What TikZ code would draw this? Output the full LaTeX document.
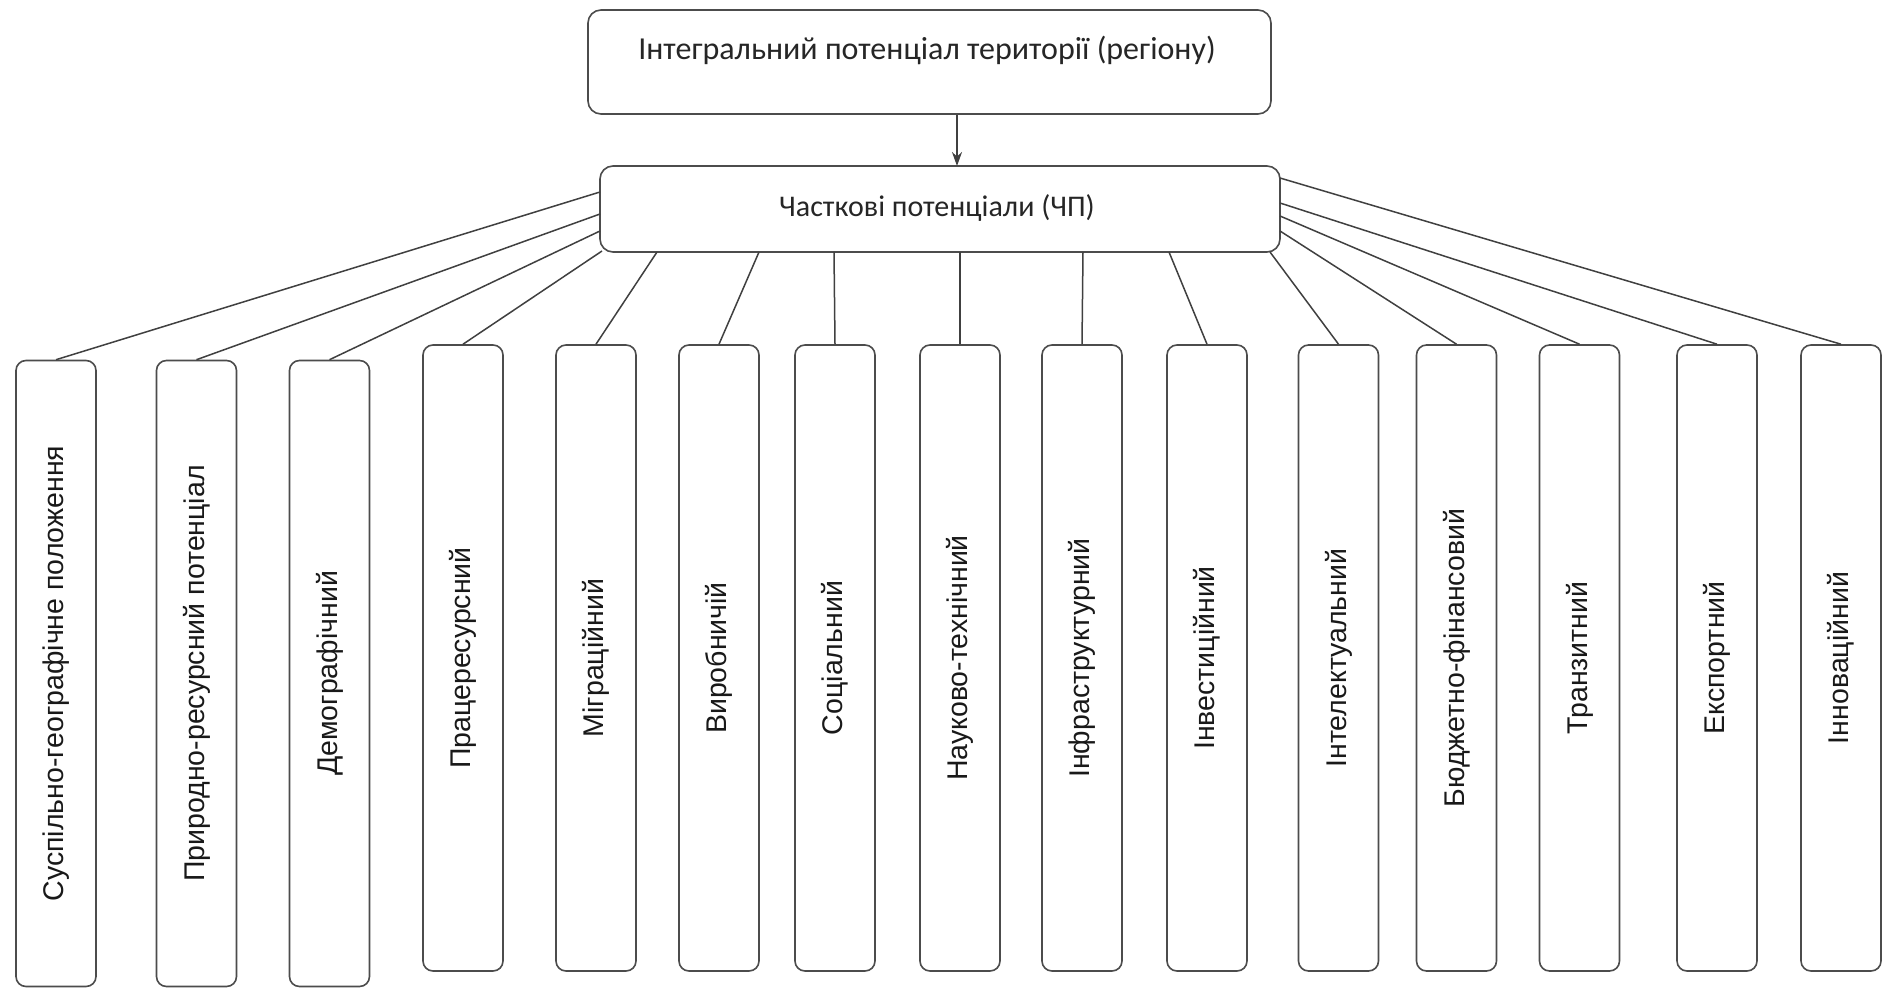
\documentclass[tikz,border=0pt]{standalone}
\usepackage{fontspec}
\setmainfont{Liberation Sans}
\newfontfamily\calib{Carlito}
\usetikzlibrary{arrows.meta}
\tikzset{
  topbox/.style={draw=black!70, line width=1.6pt, rounded corners=13pt, fill=white, inner sep=0pt},
  leafbox/.style={draw=black!70, line width=1.6pt, rounded corners=10pt, fill=white, inner sep=0pt,
     minimum width=80pt, minimum height=626pt},
  leaftext/.style={rotate=90, font=\fontsize{28.5}{32}\selectfont, text=black!90},
  link/.style={draw=black!75, line width=1.5pt},
}
\begin{document}
\begin{tikzpicture}[x=1pt,y=-1pt]
\useasboundingbox (0,0) rectangle (1888,988);
\fill[white] (0,0) rectangle (1888,988);
% top boxes
\node[topbox, minimum width=683pt, minimum height=104pt] (itp) at (929.5,62) {};
\node[font=\calib\fontsize{32}{36}\selectfont, text=black!85] (itpt) at (927,50) {Інтегральний потенціал території (регіону)};
\node[topbox, minimum width=680pt, minimum height=86pt] (cp) at (940,209) {};
\node[font=\calib\fontsize{30}{34}\selectfont, text=black!85] (cpt) at (937,208) {Часткові потенціали (ЧП)};
\coordinate (a0) at (957,115);
\coordinate (a1) at (957,166);
\draw[link, -{Stealth[length=14pt,width=10pt]}] (a0) -- (a1);
% leaf boxes
\foreach \i/\x/\y/\t in {
 1/56/673.5/Суспільно-географічне положення,
 2/196.5/673.5/Природно-ресурсний потенціал,
 3/329.5/673.5/Демографічний,
 4/463/658/Працересурсний,
 5/596/658/Міграційний,
 6/719/658/Виробничій,
 7/835/658/Соціальний,
 8/960/658/Науково-технічний,
 9/1082/658/Інфраструктурний,
 10/1207/658/Інвестиційний,
 11/1338.5/658/Інтелектуальний,
 12/1456.5/658/Бюджетно-фінансовий,
 13/1579.5/658/Транзитний,
 14/1717/658/Експортний,
 15/1841/658/Інноваційний}{
 \node[leafbox] (b\i) at (\x,\y) {};
 \node[leaftext] (t\i) at (\x,\y) {\t};
}
% start points on ЧП box
\coordinate (s1) at (600,192);
\coordinate (s2) at (600,214);
\coordinate (s3) at (600,231);
\coordinate (s4) at (602,251);
\coordinate (s5) at (657,252);
\coordinate (s6) at (759,252);
\coordinate (s7) at (834,252);
\coordinate (s8) at (960,252);
\coordinate (s9) at (1083,252);
\coordinate (s10) at (1169,252);
\coordinate (s11) at (1270,252);
\coordinate (s12) at (1280,231);
\coordinate (s13) at (1280,216);
\coordinate (s14) at (1280,203);
\coordinate (s15) at (1280,178);
\foreach \i in {1,...,15}{
  \draw[link] (s\i) -- (b\i.north);
}
\end{tikzpicture}
\end{document}
